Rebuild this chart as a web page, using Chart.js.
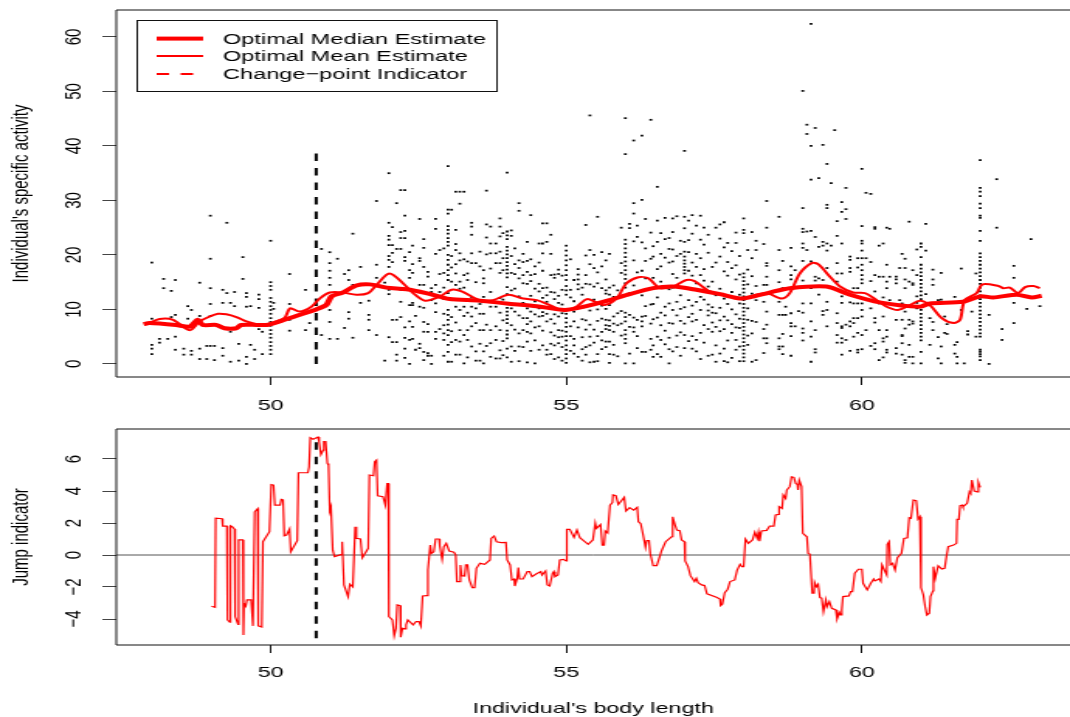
<!DOCTYPE html>
<html>
<head>
<meta charset="utf-8">
<title>Jump indicator</title>
<style>
  html, body { margin: 0; padding: 0; background: #fff; overflow: hidden; }
  canvas { position: absolute; left: 0; }
</style>
<script src="https://cdn.jsdelivr.net/npm/chart.js@4"></script>
</head>
<body>
<!-- the reference is a bitmap stretched sideways, so the canvases are too -->
<canvas id="topChart" width="690" height="415" style="top:0;width:1070px;height:415px"></canvas>
<canvas id="bottomChart" width="690" height="302" style="top:415px;width:1070px;height:302px"></canvas>
<script>
const xTicks = [50, 55, 60];
const topTicks = [0, 10, 20, 30, 40, 50, 60];
const bottomTicks = [-4, -2, 0, 2, 4, 6];
const xLimits = [47.39, 63.52];
const topLimits = [-2.4, 64.95];
const bottomLimits = [-5.625, 7.875];

const legendLabels = ['Optimal Median Estimate', 'Optimal Mean Estimate', 'Change\u2212point Indicator'];
const xTitle = "Individual's body length";
const topTitle = "Individual's specific activity";
const bottomTitle = 'Jump indicator';

const changeX = [50.77, 50.77];
const changeTopY = [0, 39];
const changeBottomY = [-5.2, 7.3];
const zeroY = [0, 0];

// one x per column of dots, the body lengths come in steps
const dotX = [47.99,48.12,48.19,48.26,48.32,48.39,48.53,48.6,48.66,48.8,48.92,48.98,49.05,49.19,49.26,49.32,49.39,49.46,49.53,49.59,49.66,49.73,49.8,49.86,
  50,50.05,50.32,50.59,50.66,50.86,51,51.13,51.25,51.32,51.39,51.52,51.66,51.79,51.93,52,52.06,52.13,52.2,52.27,52.35,52.4,52.45,52.52,52.59,52.66,52.72,52.79,52.86,
  52.93,53,53.06,53.13,53.2,53.27,53.33,53.4,53.47,53.54,53.6,53.65,53.72,53.81,53.88,53.93,54,54.07,54.13,54.2,54.27,54.34,54.4,54.47,54.54,54.6,54.67,54.74,54.8,54.87,54.93,
  55,55.07,55.13,55.2,55.27,55.33,55.4,55.47,55.53,55.6,55.67,55.73,55.8,55.87,55.93,
  56,56.07,56.14,56.2,56.28,56.34,56.43,56.47,56.54,56.6,56.67,56.74,56.8,56.87,56.93,57,57.07,57.13,57.2,57.27,57.33,57.4,57.47,57.53,57.6,57.67,57.73,57.8,57.87,57.93,
  58,58.07,58.14,58.21,58.34,58.39,58.6,58.66,58.71,58.8,58.87,58.93,59,59.07,59.14,59.21,59.27,59.34,59.41,59.48,59.54,59.58,59.66,59.73,59.8,59.86,59.93,
  60,60.07,60.15,60.22,60.29,60.36,60.42,60.47,60.58,60.64,60.68,60.73,60.8,60.86,60.93,
  61,61.08,61.15,61.2,61.29,61.34,61.4,61.44,61.57,61.61,61.68,61.73,61.79,61.86,61.93,
  62,62.15,62.28,62.37,62.57,62.79,62.86,63.01];
const dotY = [
  [18.6,8.3,3.5,2.8,1.8],[4.6,3.9],[15.6,13.9],[4.6],[13.4,8.6],[15.4,9,5,2.6],[2.8,1.7],[10.6,8.3],[9.9,2.4,1.7],[14.9,8.8,2.8,.9],[3.3,.9],[27.2,19.3,13.9,11,8.8,3.3],[3.3,.7],[13.6,11.2,2.9,1.5],[25.9,13],[11.2,5.9,.4],[13.2,10.6],[3.7,.6],[19.6,15.6],[13,12.3,10.5,1.3,0],[10.6,3.5],[2.6,.9],[12.7,11.9,10.3,6.4],[5.9,1.8],
  [22.6,15,14.3,13.6,12.1,11.4,10.6,9.9,9.2,8.4,7.7,7,6.2,5.5,4.8,4,3.3,2.6,1.8],[11.2,10.1],[16.5,11,8.1,6.1],[13.6,6.2],[7.5],[21.1,5.3],[20.5,18.5,17.1,15.8,14.5,9.9,7.7,4.6],[19.3,4.6],[16.5,6.6],[17.2,15.4,9.5,8.3],[23.9,14.5,4.8],[17.8,11.2],[11.6,9,8.1,6.2],[29.9,18.2,15.8,5.3],[14.9,.6],
  [35,25.9,23.5,22.8,21.8,19.8,19.1,17.8,13.6,12.8,4.9],[25.1,21.8,20.4,18.7,8.1,4],[29.5,21.1,8.1,4,1.7,.6],[31.9,24.2,23.1,21.1,13.6,11.4,8.6],[31.9,27.2,24.4,23.1,19.6,18.9,6.7,4.8,2.8,1.1],[20.5,17.2,15.8,10.8,7.8,4.4,0],[21.7,18.3,16.7,11.2,10.8,6.8,4.6],[8.8,2.6],[26.6,19.4,18.9,14.5,10.5,3.7,2.9],[22.9,21.3,17.8,14.5,10.3,7.7,5.9,2.2,.7],[16.9,16,7.3,5.9,2,1.5],[13.9,13.2,11.7,1.5,0],[26.6,24.8,20.2,14.5,11.1,9.5,5.9,4.6],[20.9,16.5,13.2,6.4],
  [21.2,16.7,14,11.9,9.2,7.1,5.6,4.4,1.5],
  [36.3,28.3,27.6,25.3,24.6,23.9,23.1,22.4,21.7,20,19.1,18.2,17.2,16.3,15.4,13,11.9,9.9,9,8.1,7.2,6.2,5.3,3.5,2.2,.4],
  [28.3,19.8,17.7,15.1,11.7,8.6,6,4,.4],[31.6,24.6,22,20.9,18.3,16.6,14.5,10.5,7.6,4.4,1.7],[31.6,29.4,20.3,19,15.1,13.8,9.9,6.2,4.1,1.7],[31.6,19.2,16.3,14,10.5,8.8,5.3,.1],[18.8,16.6,15.4,11.7,9.4,6.2,4.4,1.2],[25.9,25.2,23.7,20.3,18.5,12.2,10.5,8.7,6.9,3.2],[18.5,15,10.2,7.5,2.3,.6],[20.6,17.9,11,9.2,6.2,3.7,.6],[17.2,15.7,14.8,12.3,9.2,6.2,2.3,.1],[31.8,25.6,23.2,20.1,11.4,7.2,3.3],[25.2,22.1,20.3,17.5,13.2,10.5,6.2,3.8,1.3],[22.1,20.3,18.5,10.5,6.9,4.4,1],[26.7,25.2,23.4,20.6,18.5,16.7,12.1,9.4,6.2,2.5,1],[24,19.4,17.2,11.8,8,4.2,1.6],
  [35.1,24.3,23.6,22.9,21.5,20.8,20.1,19.4,18.7,18,17.3,16.6,15.9,14.1,12.8,10.3,9.6,8.9,8.2,7.5,6.1,5.4,4.7,2.8,1.2],
  [24.5,23.5,19.8,16.7,13.5,10.2,7.1,3.2,.4],[21.2,18.3,16.5,13.8,9.6,6.3,2.4],[29.5,28.1,19,17.6,15.7,12.4,8.9,5.6,3.2,.5],[20.2,18.7,16.3,14.8,11.2,8.4,6.2,3.1],[22.4,18.9,16.9,14.7,10.2,8.4,7.3,5.9,4.1,.3],[27.3,19.2,16.3,15.2,12.5,9.6,7.8,5.6,2.4],[17.9,16.5,13.8,11.5,9.1,6.7,4.3,.1],[22.1,18.6,14.7,13.3,10.2,8.7,6.9,2.6],[25.8,22.1,20.3,17.1,13.9,12.1,9.5,8.8,6.1,3.4],[25.8,22.4,14,12.6,11.4,9.2,7.8,2.6,1.7],[23.7,20.2,16.3,13.2,10.5,8.2,5.8,3.7,1.8],[16.4,15.8,13.1,11.9,9.1,7.4,5.2,3.4,.9],[17.3,16.5,12.5,11.2,8.7,6.2,4.9,3.8,1.2],[16.2,13.6,10.9,9.3,6.1,5,3.1,.6],
  [21.7,20.8,19.9,19,18.1,17.2,16.3,15.4,14.3,13.5,12.7,9.9,9.2,8.4,7.6,6.8,5.9,5.1,4.3,3.4,2.6,1.8,1,.2],
  [19.2,13.6,12.2,9.9,6.9,5.1,2.4],[15.4,11.5,9.6,7.8,4.6,3.4,1.9],[17.4,16.4,15.5,14.6,13.7,10.4,6.7,1.3],[14,12.7,10.3,8.2,4.9,2.7,.6],[25.5,19.9,16.3,14.7,8,6.3,3.1,1.7],[45.6,20.9,18.3,14.6,9.8,7.2,5,3.4,.3],[20,17.6,14.2,11.8,6.3,3.9,.4],[27,16.8,14.8,10,7.9,5.1,1.8,.5],[20.5,17.9,13.9,10.7,8.3,5.9,4.3,2.7],[19,15.5,13.5,12.9,10.1,8.1,7.1,6.4,4.1,3.1],[20.2,14,12.7,10.8,8,7,6.2,4.1,1.8,.2],[14.4,12.3,8.7,7.4,5.9,3.5,1.7],[13.5,9.3,7.1,1.4],[25,18.5,16.7,9.7,7.4,5.2],
  [45.1,38.5,22.8,22,21.2,20.4,19.6,18.8,18,17.2,16.4,15.6,14.8,14,9.4,8.6,7.8,6.2,5.4,4.6,3.8,.1],
  [25.7,24.9,13,9,6.8,1.9],[41,29.5,27.6,22.5,19,14.4,8.5,6.7,5.9,.1],[25.4,23.3,16.8,8.1,5.1,2.9],[41.9,30.1,22.3,17.1,12.6,8.7,7.8,6.9,2.2],[26.6,21.2,18.9,15.7,10.6,8.8,2.2],[44.8,24.1,19.3,13.8,10.9,7.4,4.6,2.6],[21.6,19.7,15.8,11,8.2,3.4,1.3],[32.5,26.3,22.4,17.4,12.2,8.5,5,1.8],[24,20.2,17.9,15.1,9.4,7.1,4.4,1.3],[26.8,22.9,19.5,14.2,10.5,8.9,6.1,3.6],[23.1,21.1,18.6,13.7,11.1,7.5,4.8,2.7,.1],[26.7,24.2,21,18.8,16.5,14,9.9,7.4,2.3],[27.1,19.8,15.8,11.4,8.9,5.2,3.1],[22.6,20.2,12.6,10.1,7.9,5.8,1.5],
  [39.1,27,24.9,22.4,20.6,19.7,19,18.4,17.8,17.2,16.6,10.4,7.4,5.3,2.9],[26.3,22.7,20.5,17.1,13.9,11.7,8.6,4.2],[27.3,23.9,18.6,16.2,10.7,9.2,7.8,5.1,2.8],[25.4,20.2,17.8,14.8,11.4,8.1,4.4,2.3],[27.2,22.8,19.4,16.3,12.3,9.9,5.7,.9],[25,21.9,17.4,15.3,11.8,7.1,3.9],[23.7,20.4,14.2,10.9,9.8,8.9,6.4,1.5],[17.8,15.1,10.4,9.4,7.6,5.9,1.7],[25,18.6,12.6,9.3,6.8,3.4,.4],[25.6,23,19.7,13.8,10.3,8,6,1.9],[26,21.4,17,12,8.7,6.4,2.8,.5],[22.2,18.7,16.2,11,8,4.3,.3],[20.7,17.6,13.2,10,7.3,5.7,1.1],[24.1,22.2,18.1,15.5,9.1,6.7,4.4,2.6],[19.8,16.4,12.7,11.1,8.3,6.6,3.2,.5],
  [26.7,24.6,24,16.6,15.9,15.2,14.5,13.8,13.1,12.4,11.7,11,10.3,9.6,8.9,8.2,7.5,6.8,6.1,5.4,4.7,4,3.3,2.6,1.9,1.2,.5],
  [20.9,17.3,14.6,10.2,8.1,5.2,3.5],[24.2,19.4,16.1,12.9,7.9,5.6,.4],[22.6,20.9,14.3,11.7,7.7,.7],[22,14.5,11.4,6.4,4.7,2],[29.9,25,18.5,18,16,14.5,9.6,7.2,4.7,3.8],[27,20.9,17.2,15,11.4,9,4.7,3.2,2.7],[18.9,13.9,9,5.5,3.2,1.8],[10.5,9],[21.3,17.9,16.3,15.5,9.3,7.5,6.9,5.1,1.5],[17.2,6.9],[9.7],
  [50.1,28.6,24.8,24.2,22.1,21.3,18.9,15.3,11.1,9.4,6.5,5.7,4.3],[43.9,42.2,24.3,20.9],[62.4,40,33.8,24.4,18.8,13.9,11.1,7.8,5,.4],[43.3,23.3,16,15.3,6.2,2.7,2.1],[34.1,15.7,21.5,12.7],[40.2,22.4,21.7,15.4,9.7,9],[36.7,29.2,28.6,22.1,20.8,17.6,11.4,9.9,6.9],[33.2,21.7],[42.9],[26.2,23.5,18.5,16.6,15.1,9.3,7.5,5.3,3.9],[29.7,27.9,22.1,16.6,12.4,11.2,6.9,6.6,4.7,3.9,1.7],[32.3,28.4,26.6,7.2,4.4],[19.7,19.1,17.6,16.9,11.3,7.8,6.9,2.4],[13.9,11.1,8.4,7.5,5],[19.4,17.7,13.9,11.1,8.4,5.7,2.6,2.1],
  [35.8,25.3,22.6,22.1,20.8,19.4,18.2,17.2,16.3,15.5,14.8,11.1,9.9,8.7,5.3,2.7],[31.4,19.4,6.2],[31.2,18.7,15.2,10.2,3.3],[25.1,24.8,16.3,13.3,11.6,8.4,7.6,3.8,2.7],[21.7,16,11.1,6.2,.7],[22.1,16,12.2,8.7,4.7,4.1,1.2],[25,18.2,15.1,13.9,6.2,5,2.6,2.1],[24.8,16,11.7],[16,15.5,14.8,8.1,2.9,1.9],[17.6,11.7],[20.2,11.1,8.1,5.3,5.1,3.8,1.7],[19.3,17.6,15.5,13.9,9.6,6.5,.7,.2],[26.1,15.1,8.1,7.2,3.5,1.3],[17.2,14.8,14.5,7.8,7.4,1.3,.1],[21,16.3,12.4,11.2,10.2],
  [22.1,21.5,19.6,18.2,17.5,16.8,16.1,15.4,14.7,14,13.3,12.6,11.9,9.9,9.2,8.5,7.8,7.1,6.4,5.7,5,4.3,2.2,.1],[25.7,20.8,12.8],[8.4,3.5],[17.3,15.5,14.5,7.7,6.2],[11.7,4.9,1],[16.7,11.8,3.2,.1],[8.7,5.7],[7.3,5.5],[12.3,3.5,1.9],[4,1.3,.1],[17.5,9.9],[.1],[6,5.4],[9.6],[16.6,5],
  [37.4,32.3,31.6,30.8,29.4,28.6,27.2,26.8,24.4,22.6,20.3,19.6,18.9,18.2,17.5,16.8,16.1,15.4,14.7,14,13.3,12.6,11.9,11.2,10.5,9.8,9.1,8.4,7.7,7,6.3,5.6,5,2.6,2.2,1.8,1.4,.7],
  [9,0],[33.9,25],[6.4,4.4],[18,15.8,11.2,7.5],[10.1],[22.9],[10.6]
];

const medianX = [47.85,47.95,48.4,48.63,48.77,48.85,49.08,49.22,49.42,49.5,49.76,49.93,50.15,50.43,50.77,50.94,51.03,51.22,51.45,51.68,51.96,52.3,52.63,52.86,53.03,53.54,53.99,54.5,54.97,55.34,55.73,56.07,56.47,56.81,57.2,57.6,57.94,58.1,58.44,58.78,59.4,59.8,60.3,60.98,61.15,61.71,62,62.22,62.62,62.87,63.04];
const medianY = [7.3,7.5,7.15,6.85,8.1,7.15,7.15,6.55,6.55,7.15,7.15,7.15,7.8,8.8,10,10.8,12.4,13.1,14.4,14.6,14,13.7,13,12.35,11.9,11.6,11.1,10.6,9.9,10.6,11.7,12.8,13.9,14.2,13.6,12.8,12,12.2,13.1,13.9,14.2,12.7,11.3,10.5,11.1,11.4,12.4,12.2,12.7,12.2,12.5];

const meanX = [47.95,48.12,48.35,48.63,48.8,48.97,49.11,49.25,49.42,49.59,49.76,49.93,50.1,50.24,50.33,50.49,50.69,50.83,51,51.22,51.45,51.65,51.79,52.01,52.24,52.41,52.61,52.86,53.06,53.23,53.54,53.76,54.02,54.27,54.5,54.72,54.97,55.17,55.35,55.51,55.65,55.85,56.02,56.22,56.39,56.58,56.81,57.03,57.17,57.43,57.77,58,58.1,58.39,58.64,58.78,58.95,59.15,59.26,59.46,59.63,59.85,60.05,60.25,60.42,60.61,60.81,60.98,61.15,61.35,61.55,61.66,61.74,61.94,62.04,62.31,62.39,62.5,62.64,62.76,62.9,63.01];
const meanY = [7.5,8.26,8.1,6.2,7.8,8.7,9.2,9.1,8.6,7.8,7.3,7.15,7.8,8.5,10.2,9.6,10.5,12,13.1,13.1,12.7,13,14.5,16.6,14.8,13,11.6,12.35,13.6,13.3,11.7,11.7,12.7,12,11.7,10.8,9.8,10.5,11.9,11.3,10.8,12,14.8,15.9,15.7,13.9,14.2,15.4,15.2,13.3,12.4,11.9,12.4,13,12,13,16.6,18.5,18.3,16,14.2,13.1,13,11.7,10.5,9.9,10.8,11.6,10.8,8.4,7.5,8.1,11.7,13,14.6,14.3,13.9,14,13,14.1,14.3,13.9];

const jumpX = [49,49.06,49.07,49.18,49.19,49.26,49.27,49.31,49.32,49.35,49.39,49.4,49.45,49.46,49.53,49.54,49.55,49.58,49.6,49.67,49.7,49.72,49.73,49.78,49.79,49.85,49.87,49.98,50.01,50.05,50.07,50.16,50.18,50.21,50.23,50.27,50.32,50.34,50.45,50.47,50.63,50.65,50.67,50.72,50.8,50.82,50.85,50.89,50.9,50.93,50.96,50.98,51,51.02,51.05,51.08,51.2,51.21,51.24,51.31,51.34,51.39,51.43,51.45,51.52,51.55,51.65,51.67,51.74,51.76,51.79,51.81,51.9,51.94,51.97,51.99,52,52.06,52.09,52.12,52.14,52.19,52.2,52.23,52.27,52.29,52.32,52.41,52.46,52.51,52.54,52.57,52.64,52.66,52.7,52.72,52.76,52.79,52.85,52.86,
  52.9,52.93,52.97,53.02,53.1,53.13,53.15,53.19,53.21,53.23,53.28,53.3,53.33,53.36,53.41,53.45,53.48,53.54,53.62,53.71,53.73,53.78,53.82,53.9,53.98,54,54.05,54.08,54.12,54.13,54.17,54.19,54.21,54.27,54.34,54.38,54.42,54.49,54.57,54.59,54.65,54.68,54.72,54.77,54.79,54.81,54.86,54.89,54.95,55,55.01,55.06,55.13,55.18,55.23,55.37,55.45,55.49,55.51,55.58,55.61,55.64,55.66,55.7,55.74,55.78,55.79,55.84,55.88,55.98,56.01,56.07,56.14,56.2,56.22,56.26,56.3,56.34,56.36,56.4,56.42,56.47,56.53,56.59,56.61,56.68,56.78,56.8,56.84,56.87,56.92,56.95,57,57.01,57.06,57.1,57.17,57.2,57.23,57.29,57.34,57.38,57.54,57.6,57.61,57.64,57.68,57.73,57.77,57.85,57.89,57.94,57.97,58,58.03,58.08,58.15,58.19,58.23,58.25,
  58.27,58.3,58.39,58.44,58.51,58.54,58.59,58.6,58.65,58.67,58.71,58.73,58.78,58.81,58.85,58.88,58.91,58.92,58.94,58.98,59,59.07,59.09,59.12,59.16,59.19,59.2,59.23,59.26,59.29,59.32,59.35,59.39,59.41,59.45,59.49,59.56,59.58,59.62,59.64,59.66,59.68,59.78,59.81,59.84,59.88,59.94,60,60.02,60.09,60.15,60.2,60.22,60.29,60.32,60.34,60.38,60.42,60.43,60.46,60.48,60.52,60.56,60.6,60.67,60.71,60.77,60.8,60.83,60.87,60.92,60.95,60.98,61,61.04,61.07,61.1,61.14,61.16,61.2,61.21,61.24,61.29,61.35,61.4,61.43,61.46,61.55,61.6,61.61,61.64,61.66,61.7,61.71,61.78,61.82,61.84,61.86,61.9,61.95,61.97,62];
const jumpY = [-3.2,-3.27,2.3,2.27,1.8,1.8,-4.05,-4.2,1.83,1.77,1.62,-3.85,-4.33,.94,.94,-5,-3.02,-3.2,-2.8,-2.8,-4.43,-4.43,2.7,2.9,-4.43,-4.5,.83,1.46,4.4,4.37,3.12,3.12,3.48,3.45,1.2,1.25,1.62,.2,.9,5.14,5.14,5.5,7.33,7.24,7.37,7.08,6.28,6.56,7.08,7.08,5.72,5.6,2.75,3,.3,-.1,.04,.83,-1.87,-2.6,-1.83,-2,1.77,1.04,1,-.17,.42,5,4.95,5.83,5.93,3.7,3.64,3.12,4.47,4.47,-3.85,-4.06,-5.04,-4.58,-3.12,-3.16,-5.14,-4.58,-4.62,-4.37,-4.06,-4.37,-4.16,-4.16,-4.43,-2.56,-2.54,-.94,.62,.1,.2,1,1,.58,
  -.27,.52,.73,.25,.17,0,-1.66,-1.66,-.62,-1.29,-1.31,-.62,-.62,-1.56,-2.04,-2.04,-.83,-.52,-.58,-.31,1.04,1.19,.83,.77,.79,-.31,-.62,-1.56,-1.5,-1.94,-1.46,-.79,-1.5,-1.5,-1.04,-1.04,-1.35,-1.19,-1.04,-1.25,-1,-1.87,-1.94,-1.14,-1.04,-1.35,-1.25,-.31,-.27,-.37,1.6,1.6,1.1,1.56,1.08,.67,.94,2,1.66,1.9,.62,.62,1.5,1.37,3.12,3.27,3.75,3.7,3.16,3.6,2.75,2.96,2.8,2.98,2.08,1.96,1.25,.48,.9,.9,.1,-.67,-.67,0,.25,.83,1.14,2.39,1.87,1.56,1.52,.94,.83,-.37,-.73,-1.29,-1.66,-1.46,-1.73,-1.87,-1.91,-2.43,-2.64,-2.75,-3.16,-3.08,-2.35,-2.14,-1.66,-1.56,-.94,-.58,-.73,-.73,1,.73,.94,1.42,1.04,1.42,
  .87,1.5,1.54,1.81,1.81,2.5,2.54,3.02,2.91,3.75,3.54,4.06,4.27,4.89,4.85,4.47,4.41,4.06,4.68,4.27,1.35,1.14,.1,.06,-2.39,-2.39,-1.71,-1.98,-1.83,-2.66,-2.7,-3.54,-2.81,-3.23,-2.91,-3.33,-3.43,-4,-3.6,-3.75,-3.43,-2.6,-2.56,-2.29,-2.29,-1.14,-.89,-.89,-1.77,-2.18,-1.77,-1.5,-1.62,-1.5,-1.66,-.62,-.94,-1.25,.67,.83,-.62,-.52,-.94,-.17,.1,1.04,1.08,2.33,2.29,3.43,3.39,2.25,2.39,-2.04,-2.5,-3.23,-3.75,-3.64,-2.6,-2.25,-.73,-1.46,-.67,-.87,-.83,-.1,.52,.62,.73,2.23,2.23,3.08,3.12,3.02,3.23,3.95,3.85,4.68,4,3.95,4.54,4.22];

const dots = dotX.flatMap((x, i) => dotY[i].map(y => ({ x, y })));
const pairs = (xs, ys) => xs.map((x, i) => ({ x, y: ys[i] }));
const FONT = { family: '"Liberation Sans", Arial, sans-serif', size: 15 };
const INK = '#111';

const frame = {
  id: 'frame',
  afterDraw(chart) {
    const { ctx, chartArea: a } = chart;
    ctx.save();
    ctx.strokeStyle = INK;
    ctx.lineWidth = 1;
    ctx.beginPath();
    ctx.moveTo(chart.width + 2, a.top);
    ctx.lineTo(a.left, a.top);
    ctx.lineTo(a.left, a.bottom);
    ctx.lineTo(chart.width + 2, a.bottom);
    ctx.stroke();
    ctx.restore();
  }
};

const legendBox = {
  id: 'legendBox',
  afterDraw(chart) {
    const { ctx } = chart;
    const rows = [38.6, 56, 74];
    ctx.save();
    ctx.strokeStyle = INK;
    ctx.lineWidth = 1;
    ctx.strokeRect(88.5, 20.5, 232, 71);
    ctx.strokeStyle = '#ff0000';
    [4, 2, 2].forEach((w, i) => {
      ctx.lineWidth = w;
      ctx.setLineDash(i === 2 ? [8, 7.5] : []);
      ctx.beginPath();
      ctx.moveTo(101, rows[i]);
      ctx.lineTo(131, rows[i]);
      ctx.stroke();
    });
    ctx.fillStyle = '#000';
    ctx.font = `15.2px ${FONT.family}`;
    ctx.textBaseline = 'middle';
    legendLabels.forEach((t, i) => ctx.fillText(t, 143.8, rows[i] + 0.8));
    ctx.restore();
  }
};

function xScale(ticksPadding, height, title) {
  return {
    type: 'linear', min: xLimits[0], max: xLimits[1],
    afterBuildTicks: s => { s.ticks = xTicks.map(value => ({ value })); },
    afterFit: s => { s.height = height; s.paddingLeft = 0; s.paddingRight = 0; },
    border: { display: false },
    grid: { drawOnChartArea: false, tickLength: 8, color: INK },
    ticks: { padding: ticksPadding, color: '#000', font: FONT, maxRotation: 0, autoSkip: false },
    title: title ? { display: true, text: title, color: '#000', font: FONT, padding: { top: 0, bottom: -1 } } : { display: false }
  };
}

function yScale(limits, tickValues, title) {
  return {
    type: 'linear', min: limits[0], max: limits[1],
    afterBuildTicks: s => { s.ticks = tickValues.map(value => ({ value })); },
    afterFit: s => { s.width = 75; s.paddingTop = 0; s.paddingBottom = 0; },
    border: { display: false },
    grid: { drawOnChartArea: false, tickLength: 9, color: '#444' },
    ticks: {
      minRotation: 90, maxRotation: 90, crossAlign: 'center', padding: 9.6, color: '#000', font: FONT, autoSkip: false,
      callback: v => (v < 0 ? '\u2212' + Math.abs(v) : String(v))
    },
    title: { display: true, text: title, color: '#000', font: FONT, padding: { top: 5, bottom: 0 } }
  };
}

const baseOptions = {
  responsive: false,
  animation: false,
  devicePixelRatio: 1,
  plugins: { legend: { display: false }, tooltip: { enabled: false } },
  elements: { point: { radius: 0 } }
};

new Chart(document.getElementById('topChart'), {
  type: 'scatter',
  data: {
    datasets: [
      { label: legendLabels[0], data: pairs(medianX, medianY), showLine: true, borderColor: '#ff0000', borderWidth: 4, tension: 0.25, pointRadius: 0, order: 1 },
      { label: legendLabels[1], data: pairs(meanX, meanY), showLine: true, borderColor: '#ff0000', borderWidth: 2, tension: 0.3, pointRadius: 0, order: 2 },
      { label: legendLabels[2], data: pairs(changeX, changeTopY), showLine: true, borderColor: '#000', borderWidth: 2, borderDash: [7.5, 7], pointRadius: 0, order: 3 },
      { label: 'Observations', data: dots, pointStyle: 'rect', pointRadius: 1.25, pointBorderWidth: 0, pointBackgroundColor: '#000', order: 4 }
    ]
  },
  options: {
    ...baseOptions,
    layout: { autoPadding: false, padding: { top: 10, right: 0, bottom: 0, left: 0 } },
    scales: { x: xScale(12, 38), y: yScale(topLimits, topTicks, topTitle) }
  },
  plugins: [frame, legendBox]
});

new Chart(document.getElementById('bottomChart'), {
  type: 'scatter',
  data: {
    datasets: [
      { label: 'Change-point', data: pairs(changeX, changeBottomY), showLine: true, borderColor: '#000', borderWidth: 2, borderDash: [7.5, 7], pointRadius: 0, order: 1 },
      { label: 'Jump indicator', data: pairs(jumpX, jumpY), showLine: true, borderColor: '#ff0000', borderWidth: 1.2, pointRadius: 0, order: 2 },
      { label: 'Zero', data: pairs(xLimits, zeroY), showLine: true, borderColor: '#555', borderWidth: 1, pointRadius: 0, order: 3 }
    ]
  },
  options: {
    ...baseOptions,
    layout: { autoPadding: false, padding: { top: 14, right: 0, bottom: 0, left: 0 } },
    scales: { x: xScale(11, 72, xTitle), y: yScale(bottomLimits, bottomTicks, bottomTitle) }
  },
  plugins: [frame]
});
</script>
</body>
</html>
